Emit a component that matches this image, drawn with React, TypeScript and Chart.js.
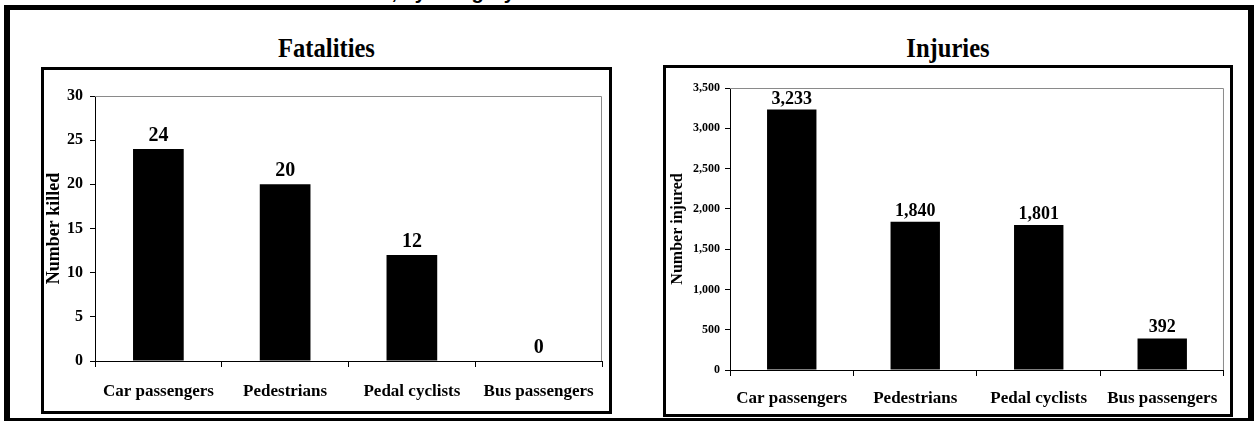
import { useEffect, useRef } from "react";
import { Chart, registerables } from "chart.js";

Chart.register(...registerables);

// Road user categories shared by both panels
const categories = ["Car passengers", "Pedestrians", "Pedal cyclists", "Bus passengers"];

// Fatalities panel
const killedValues = [24, 20, 12, 0];
const killedTicks = [0, 5, 10, 15, 20, 25, 30];

// Injuries panel
const injuredValues = [3233, 1840, 1801, 392];
const injuredTicks = [0, 500, 1000, 1500, 2000, 2500, 3000, 3500];

const SERIF = '"Liberation Serif", "Times New Roman", serif';

// Gray plot-area frame (top and right) plus bold value labels above each bar
const plotFrameAndValues = {
  id: "plotFrameAndValues",
  beforeDatasetsDraw(chart: any) {
    const { ctx, chartArea: a } = chart;
    ctx.save();
    ctx.strokeStyle = "#8a8a8a";
    ctx.lineWidth = 1;
    ctx.beginPath();
    ctx.moveTo(a.left, a.top + 0.5);
    ctx.lineTo(a.right - 0.5, a.top + 0.5);
    ctx.lineTo(a.right - 0.5, a.bottom);
    ctx.stroke();
    ctx.restore();
  },
  afterDatasetsDraw(chart: any, _args: any, opts: any) {
    const { ctx } = chart;
    const meta = chart.getDatasetMeta(0);
    const data = chart.data.datasets[0].data as number[];
    ctx.save();
    ctx.fillStyle = "#000";
    ctx.font = `bold ${opts.size}px ${SERIF}`;
    ctx.textAlign = "center";
    ctx.textBaseline = "alphabetic";
    meta.data.forEach((bar: any, i: number) => {
      ctx.fillText(data[i].toLocaleString("en-US"), bar.x, bar.y - opts.gap);
    });
    ctx.restore();
  },
};

type PanelProps = {
  values: number[];
  ticks: number[];
  yTitle: string;
  width: number;
  height: number;
  yAxisWidth: number;
  xAxisHeight: number;
  padTop: number;
  padRight: number;
  yTickSize: number;
  xTickSize: number;
  titleSize: number;
  titlePad: number;
  yTickPad: number;
  xTickPad: number;
  valueSize: number;
  valueGap: number;
};

function BarPanel(p: PanelProps) {
  const ref = useRef<HTMLCanvasElement>(null);

  useEffect(() => {
    if (!ref.current) return;
    const chart = new Chart(ref.current, {
      type: "bar",
      data: {
        labels: categories,
        datasets: [
          {
            data: p.values,
            backgroundColor: "#000",
            borderWidth: 0,
            categoryPercentage: 1,
            barPercentage: 0.4,
          },
        ],
      },
      options: {
        animation: false,
        responsive: false,
        devicePixelRatio: 1,
        layout: { padding: { top: p.padTop, right: p.padRight, left: 0, bottom: 0 } },
        plugins: {
          legend: { display: false },
          tooltip: { enabled: false },
          plotFrameAndValues: { size: p.valueSize, gap: p.valueGap },
        } as any,
        scales: {
          x: {
            grid: {
              offset: true,
              drawOnChartArea: false,
              drawTicks: true,
              tickLength: 6,
              color: "#000",
            },
            border: { color: "#000", width: 1 },
            ticks: {
              color: "#000",
              font: { family: SERIF, size: p.xTickSize, weight: "bold" },
              padding: p.xTickPad,
              maxRotation: 0,
              autoSkip: false,
            },
            afterFit(scale: any) {
              scale.height = p.xAxisHeight;
            },
          },
          y: {
            min: p.ticks[0],
            max: p.ticks[p.ticks.length - 1],
            afterBuildTicks(scale: any) {
              scale.ticks = p.ticks.map((v) => ({ value: v }));
            },
            grid: {
              drawOnChartArea: false,
              drawTicks: true,
              tickLength: 5,
              color: "#000",
            },
            border: { color: "#000", width: 1 },
            ticks: {
              color: "#000",
              font: { family: SERIF, size: p.yTickSize, weight: "bold" },
              padding: p.yTickPad,
              callback: (v: any) => Number(v).toLocaleString("en-US"),
            },
            title: {
              display: true,
              text: p.yTitle,
              color: "#000",
              font: { family: SERIF, size: p.titleSize, weight: "bold" },
              padding: { top: p.titlePad, bottom: 0 },
            },
            afterFit(scale: any) {
              scale.width = p.yAxisWidth;
            },
          },
        },
      },
      plugins: [plotFrameAndValues],
    });
    return () => chart.destroy();
  }, []);

  return <canvas ref={ref} width={p.width} height={p.height} style={{ display: "block" }} />;
}

const abs = (left: number, top: number, width: number, height: number): React.CSSProperties => ({
  position: "absolute",
  left,
  top,
  width,
  height,
  boxSizing: "border-box",
});

const panelTitle: React.CSSProperties = {
  textAlign: "center",
  font: `bold 27px ${SERIF}`,
  lineHeight: "27px",
  color: "#000",
  transform: "scaleX(0.91)",
};

export default function App() {
  return (
    <div style={{ ...abs(0, 0, 1256, 421), background: "#fff", overflow: "hidden" }}>
      {/* heading line above the frame, mostly out of view */}
      <div style={{ ...abs(0, 0, 1256, 5), overflow: "hidden" }}>
        <div
          style={{
            position: "absolute",
            left: 218,
            top: -18,
            whiteSpace: "nowrap",
            font: 'bold 20px "Liberation Sans", Arial, sans-serif',
            lineHeight: "20px",
            color: "#000",
          }}
        >
          Casualties in 2005, by category of road user
        </div>
      </div>

      {/* outer frame */}
      <div style={{ ...abs(4, 5, 1250, 418), border: "5px solid #000", borderLeftWidth: 6, borderRightWidth: 6 }} />

      {/* panel titles */}
      <div style={{ ...abs(41, 35, 571, 28), ...panelTitle }}>Fatalities</div>
      <div style={{ ...abs(663, 35, 570, 28), ...panelTitle }}>Injuries</div>

      {/* Fatalities panel */}
      <div style={{ ...abs(41, 67, 571, 347), border: "3px solid #000" }}>
        <BarPanel
          values={killedValues}
          ticks={killedTicks}
          yTitle="Number killed"
          width={565}
          height={341}
          yAxisWidth={51}
          xAxisHeight={50}
          padTop={26}
          padRight={7}
          yTickSize={16}
          xTickSize={17}
          titleSize={18}
          titlePad={0}
          yTickPad={7}
          xTickPad={14}
          valueSize={20}
          valueGap={8}
        />
      </div>

      {/* Injuries panel */}
      <div style={{ ...abs(663, 65, 570, 352), border: "3px solid #000" }}>
        <BarPanel
          values={injuredValues}
          ticks={injuredTicks}
          yTitle="Number injured"
          width={564}
          height={346}
          yAxisWidth={64}
          xAxisHeight={44}
          padTop={20}
          padRight={6}
          yTickSize={12}
          xTickSize={17}
          titleSize={16}
          titlePad={2}
          yTickPad={5}
          xTickPad={12}
          valueSize={18}
          valueGap={6}
        />
      </div>
    </div>
  );
}
